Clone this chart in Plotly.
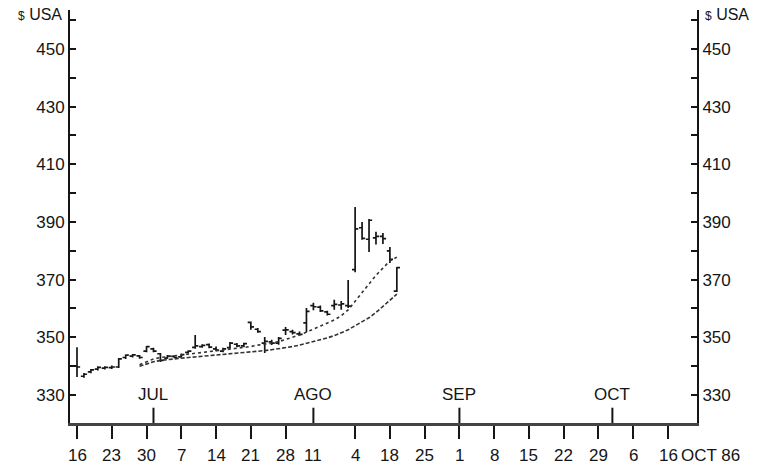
import plotly.graph_objects as go

# ---- data (trading-day index from 16 Jun 1986) ----
t = list(range(47))
high = [346.6, 337.6, 339.0, 340.0, 340.0, 340.2, 342.8, 344.0, 344.2, 343.9,
        347.0, 346.4, 344.6, 343.9, 343.8, 344.4, 345.5, 350.8, 347.6, 347.9,
        346.8, 346.4, 348.4, 348.0, 348.1, 355.5, 353.2, 350.1, 349.2, 350.1,
        353.6, 352.6, 352.0, 360.2, 362.0, 361.0, 359.2, 363.0, 362.6, 369.9,
        395.2, 390.0, 391.0, 386.6, 386.2, 381.3, 374.4]
low = [336.2, 336.0, 337.5, 338.5, 338.8, 339.0, 339.4, 342.5, 343.0, 342.6,
       344.8, 344.8, 341.4, 342.6, 342.7, 343.0, 344.4, 346.0, 346.4, 346.2,
       345.2, 344.8, 346.0, 346.6, 346.6, 352.6, 351.6, 344.6, 347.3, 347.4,
       350.8, 351.0, 350.6, 351.8, 359.4, 358.8, 357.6, 359.6, 359.6, 360.2,
       372.6, 383.8, 379.6, 382.2, 382.4, 375.8, 365.7]
opn = [340.0, 336.5, 338.0, 339.0, 339.3, 339.5, 339.7, 343.0, 343.5, 343.6,
       345.2, 346.0, 344.3, 342.8, 343.4, 343.2, 344.8, 346.5, 346.8, 347.5,
       346.0, 345.2, 346.4, 347.6, 347.0, 355.2, 352.8, 348.0, 348.4, 348.0,
       352.5, 352.0, 351.2, 355.0, 361.0, 360.5, 358.8, 361.0, 361.2, 361.0,
       373.5, 388.0, 384.0, 384.5, 385.0, 380.0, 366.0]
cls = [339.7, 337.2, 338.7, 339.6, 339.6, 339.7, 342.5, 343.8, 343.9, 343.0,
       346.8, 345.2, 342.0, 343.5, 343.0, 344.0, 345.2, 347.0, 347.2, 346.6,
       345.6, 346.0, 348.0, 347.0, 347.8, 353.6, 352.0, 348.6, 348.0, 349.6,
       352.6, 351.6, 351.0, 359.0, 360.6, 359.2, 358.0, 361.4, 361.6, 360.8,
       387.6, 384.3, 390.6, 385.0, 384.2, 377.0, 374.2]

ma_t = list(range(9, 47))
ma_short = [340.5, 341.5, 342.5, 343.0, 343.3, 343.5, 343.7, 344.0, 344.4, 344.8,
            345.1, 345.4, 345.6, 345.8, 346.1, 346.4, 346.8, 347.3, 347.6, 348.0,
            348.5, 349.2, 350.0, 350.8, 351.8, 352.8, 353.8, 354.8, 356.0, 357.5,
            359.5, 362.5, 365.5, 368.5, 371.5, 374.0, 376.5, 377.8]
ma_long = [340.0, 340.8, 341.5, 342.0, 342.3, 342.6, 342.8, 343.0, 343.2, 343.4,
           343.6, 343.8, 344.0, 344.2, 344.4, 344.6, 344.8, 345.1, 345.4, 345.7,
           346.0, 346.4, 346.8, 347.3, 347.9, 348.5, 349.1, 349.8, 350.6, 351.5,
           352.6, 354.0, 355.4, 356.8, 358.6, 360.8, 363.0, 365.0]

week_pos = [0, 5, 10, 15, 20, 25, 30, 40, 45, 50, 55, 60, 65, 70, 75, 80, 85]
week_lbl = ["16", "23", "30", "7", "14", "21", "28", "4", "18", "25", "1", "8",
            "15", "22", "29", "6", "16"]
extra_pos = [34]
extra_lbl = ["11"]
month_pos = [11, 34, 55, 77]
month_lbl = ["JUL", "AGO", "SEP", "OCT"]
y_ticks = list(range(330, 461, 10))
y_text = [str(v) if v % 20 == 10 and v <= 450 else "" for v in y_ticks]

X_RANGE = [-1.007, 89.17]
Y_RANGE = [320.29, 463.5]
INK = "#151515"
FONT = "Liberation Sans, Arial, sans-serif"

fig = go.Figure()
fig.add_trace(go.Ohlc(
    x=t, open=opn, high=high, low=low, close=cls,
    increasing=dict(line=dict(color=INK, width=1.7)),
    decreasing=dict(line=dict(color=INK, width=1.7)),
    tickwidth=0.45, showlegend=False, hoverinfo="skip"))
fig.add_trace(go.Scatter(x=ma_t, y=ma_short, mode="lines", showlegend=False,
                         line=dict(color="#333", width=1.6, dash="dot")))
fig.add_trace(go.Scatter(x=ma_t, y=ma_long, mode="lines", showlegend=False,
                         line=dict(color="#333", width=1.6, dash="4px,2px")))
fig.add_trace(go.Scatter(x=[None], y=[None], yaxis="y2", showlegend=False))

ann = []
for p, s in zip(week_pos + extra_pos, week_lbl + extra_lbl):
    ann.append(dict(x=p, y=-0.0775, xref="x", yref="paper", text=s,
                    showarrow=False, xanchor="center", yanchor="middle"))
ann.append(dict(x=85, y=-0.0775, xref="x", yref="paper", text="OCT 86",
                showarrow=False, xanchor="left", yanchor="middle", xshift=11))
for p, s in zip(month_pos, month_lbl):
    ann.append(dict(x=p, y=0.068, xref="x", yref="paper", text=s,
                    showarrow=False, xanchor="center", yanchor="middle"))
usd = "<span style='font-size:12px'>$</span> USA"
ann.append(dict(x=0, y=461.8, xref="paper", yref="y", text=usd, showarrow=False,
                xanchor="right", yanchor="middle", xshift=-6, font=dict(size=16)))
ann.append(dict(x=1, y=461.8, xref="paper", yref="y", text=usd, showarrow=False,
                xanchor="left", yanchor="middle", xshift=6, font=dict(size=16)))

shapes = []
for p in month_pos:
    shapes.append(dict(type="line", x0=p, x1=p, y0=0, y1=0.037, xref="x",
                       yref="paper", line=dict(color=INK, width=2)))

yax = dict(range=Y_RANGE, tickvals=y_ticks, ticktext=y_text, ticks="inside",
           ticklen=6, tickwidth=1.5, tickcolor=INK, showline=True, linewidth=2,
           linecolor=INK, showgrid=False, zeroline=False,
           tickfont=dict(size=17, color=INK))

fig.update_layout(
    width=759, height=466,
    margin=dict(l=70, r=62, t=10, b=43),
    paper_bgcolor="white", plot_bgcolor="white",
    font=dict(family=FONT, size=17, color=INK),
    xaxis=dict(range=X_RANGE, tickvals=week_pos, ticktext=[""] * len(week_pos),
               ticks="outside", ticklen=13, tickwidth=2, tickcolor=INK,
               showline=True, linewidth=2.5, linecolor="#444", showgrid=False,
               zeroline=False, rangeslider=dict(visible=False)),
    yaxis=yax,
    yaxis2=dict(yax, overlaying="y", side="right"),
    annotations=ann, shapes=shapes,
)

fig.write_html("out.html", config={"displayModeBar": False},
               post_script="document.body.style.margin='0';document.body.style.padding='0';")
